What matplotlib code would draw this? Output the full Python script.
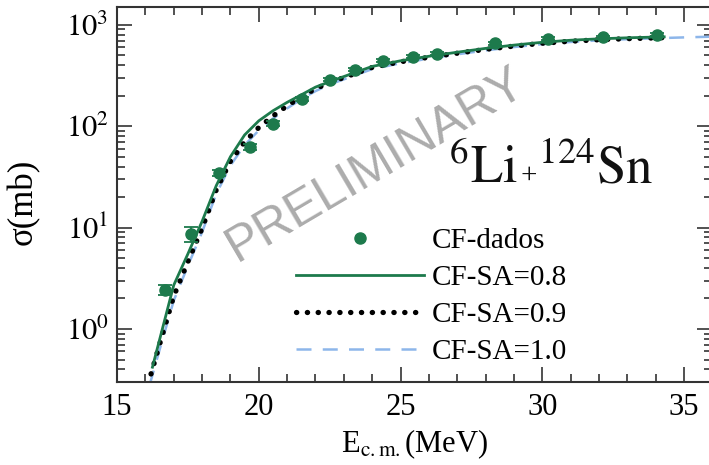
import matplotlib
matplotlib.use("Agg")
import matplotlib.pyplot as plt
from matplotlib.ticker import FixedLocator, FixedFormatter, MultipleLocator, LogLocator, NullFormatter

# Complete-fusion cross sections, 6Li + 124Sn
E_data = [16.68, 17.60, 18.59, 19.68, 20.49, 21.52, 22.50, 23.38, 24.37,
          25.43, 26.28, 28.33, 30.20, 32.14, 34.05]
sigma_data = [2.44, 8.7, 34.8, 62.8, 106, 187, 288, 361, 443,
              484, 519, 655, 729, 751, 798]
sigma_err = [0.3, 1.5, 2.5, 4, 6, 8, 10, 12, 14, 15, 16, 20, 22, 24, 26]

# Calculated CF cross sections for three SA values
E_sa08 = [16.25, 16.5, 17.0, 17.5, 18.0, 18.5, 19.0, 19.5, 20.0, 20.5, 21.0,
          21.5, 22.0, 22.5, 23.0, 24.0, 25.0, 26.0, 27.0, 28.0, 29.0, 30.0,
          31.0, 32.0, 33.0, 34.3]
sigma_sa08 = [0.42, 0.78, 2.7, 5.5, 11.5, 25.9, 50, 82, 113, 142, 172,
              204, 243, 275, 309, 389, 442, 490, 537, 586, 631, 673,
              705, 728, 745, 762]

E_sa09 = [16.2, 16.5, 17.0, 17.5, 18.0, 18.5, 19.0, 19.5, 20.0, 20.5, 21.0,
          21.5, 22.0, 22.5, 23.0, 24.0, 25.0, 26.0, 27.0, 28.0, 29.0, 30.0,
          31.0, 32.0, 33.0, 34.3]
sigma_sa09 = [0.36, 0.70, 2.1, 4.6, 9.8, 23.5, 45, 70, 97, 126, 159,
              195, 234, 270, 302, 380, 432, 479, 525, 573, 617, 658,
              689, 713, 730, 747]

E_sa10 = [16.15, 16.5, 17.0, 17.5, 18.0, 18.5, 19.0, 19.5, 20.0, 20.5, 21.0,
          21.5, 22.0, 22.5, 23.0, 24.0, 25.0, 26.0, 27.0, 28.0, 29.0, 30.0,
          31.0, 32.0, 33.0, 34.0, 35.0, 36.0]
sigma_sa10 = [0.28, 0.62, 1.9, 4.2, 9.0, 21.5, 41, 65, 91, 119, 150,
              185, 222, 258, 290, 366, 418, 465, 512, 560, 604, 645,
              678, 703, 722, 738, 752, 765]

x_major = [15, 20, 25, 30, 35]
x_labels = ["15", "20", "25", "30", "35"]
y_major = [1, 10, 100, 1000]
y_labels = [r"$10^{0}$", r"$10^{1}$", r"$10^{2}$", r"$10^{3}$"]

plt.rcParams["font.family"] = ["Liberation Serif", "DejaVu Serif"]
plt.rcParams["mathtext.fontset"] = "stix"

GREEN = "#1d7a4c"
BLUE = "#8db6ea"
SPINE = "#333333"

fig = plt.figure(figsize=(7.09, 4.65), dpi=100)
W, H = 709.0, 465.0
ax = fig.add_axes([117 / W, 1 - 382 / H, (712.4 - 117) / W, (382 - 7) / H])

ax.plot(E_sa10, sigma_sa10, color=BLUE, lw=1.8, linestyle=(0, (6, 4.5)),
        label="CF-SA=1.0", zorder=2)
ax.plot(E_sa09, sigma_sa09, color="black", lw=3.8, linestyle=(0, (0.05, 2.0)),
        dash_capstyle="round", label="CF-SA=0.9", zorder=3)
ax.plot(E_sa08, sigma_sa08, color=GREEN, lw=2.0, label="CF-SA=0.8", zorder=4)
ax.errorbar(E_data, sigma_data, yerr=sigma_err, fmt="none", ecolor=GREEN,
            elinewidth=1.3, capsize=5, capthick=1.3, zorder=5)
ax.plot(E_data, sigma_data, "o", color=GREEN, ms=8, mec=GREEN,
        label="CF-dados", zorder=6)

ax.set_yscale("log")
ax.set_xlim(15, 36)
ax.set_ylim(0.30, 1500)

ax.xaxis.set_major_locator(FixedLocator(x_major))
ax.xaxis.set_major_formatter(FixedFormatter(x_labels))
ax.xaxis.set_minor_locator(MultipleLocator(1))
ax.yaxis.set_major_locator(FixedLocator(y_major))
ax.yaxis.set_major_formatter(FixedFormatter(y_labels))
ax.yaxis.set_minor_locator(LogLocator(base=10, subs=range(2, 10)))
ax.yaxis.set_minor_formatter(NullFormatter())

ax.tick_params(which="both", direction="in", top=True, right=True,
               color=SPINE, width=1.2)
ax.tick_params(which="major", length=11, labelsize=22, pad=8)
ax.tick_params(axis="y", which="major", pad=6)
ax.tick_params(which="minor", length=6)
for s in ax.spines.values():
    s.set_color(SPINE)
    s.set_linewidth(1.5)

ax.set_xlabel(r"E$_{\mathrm{c.m.}}$(MeV)", fontsize=22, labelpad=4)
ax.set_ylabel("σ(mb)", fontsize=25)
ax.yaxis.set_label_coords(-0.13, 0.48)

handles, labels = ax.get_legend_handles_labels()
order = [3, 2, 1, 0]
ax.legend([handles[i] for i in order], [labels[i] for i in order],
          frameon=False, fontsize=21, handlelength=4.4, handletextpad=0.26,
          labelspacing=0.36, borderpad=0, borderaxespad=0,
          loc="upper left", bbox_to_anchor=(296 / W, 1 - 228 / H),
          bbox_transform=fig.transFigure)

# reaction label: 6Li + 124Sn, with a small plus sign on the baseline
base_y = 1 - 183 / H
fig.text(449 / W, base_y, r"$^{6}\mathrm{Li}$", fontsize=38,
         ha="left", va="baseline", color="#111111")
fig.text(520 / W, base_y, "+", fontsize=21,
         ha="left", va="baseline", color="#111111")
fig.text(538 / W, base_y, r"$^{124}\mathrm{Sn}$", fontsize=38,
         ha="left", va="baseline", color="#111111")

fig.text(376 / W, 1 - 165 / H, "PRELIMINARY", family="Liberation Sans",
         fontsize=36, color="#acacac", rotation=30.5, ha="center",
         va="center", rotation_mode="anchor", zorder=10)

fig.savefig("out.png", dpi=100)
